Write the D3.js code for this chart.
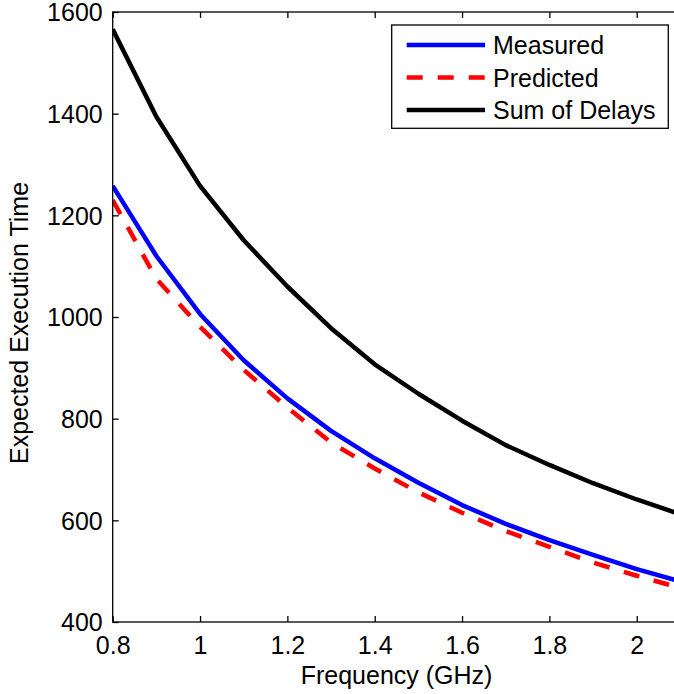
<!DOCTYPE html>
<html>
<head>
<meta charset="utf-8">
<script src="https://cdn.jsdelivr.net/npm/d3@7"></script>
<style>
  html, body { margin: 0; padding: 0; background: #fff; overflow: hidden; }
  svg { display: block; font-family: "Liberation Sans", Arial, Helvetica, sans-serif; }
</style>
</head>
<body>
<script>
// Data
const freq = [0.8, 0.9, 1.0, 1.1, 1.2, 1.3, 1.4, 1.5, 1.6, 1.7, 1.8, 1.9, 2.0, 2.1];
const measured = [1258, 1120, 1006, 915, 840, 776, 722, 674, 630, 593, 561, 532, 504, 480];
const predicted = [1230, 1075, 981, 896, 822, 753, 702, 655, 615, 579, 548, 517, 491, 467];
const sumOfDelays = [1566, 1394, 1258, 1151, 1060, 978, 907, 849, 796, 748, 709, 673, 641, 612];

const xTicks = [0.8, 1.0, 1.2, 1.4, 1.6, 1.8, 2.0];
const xTickLabels = ["0.8", "1", "1.2", "1.4", "1.6", "1.8", "2"];
const yTicks = [400, 600, 800, 1000, 1200, 1400, 1600];

const series = [
  { name: "Measured", values: measured, color: "#0000ff", dash: null },
  { name: "Predicted", values: predicted, color: "#ff0000", dash: "16,15" },
  { name: "Sum of Delays", values: sumOfDelays, color: "#000000", dash: null }
];

const width = 674;
const height = 694;
const fontSize = 25;

const x = d3.scaleLinear().domain([0.8, 2.1]).range([112.7, 680.4]);
const y = d3.scaleLinear().domain([400, 1600]).range([622, 12]);

const svg = d3.select('body')
  .append('svg')
  .attr('width', width)
  .attr('height', height);

// plot lines (clipped to the axes box)
svg.append('clipPath')
  .attr('id', 'plot-clip')
  .append('rect')
  .attr('x', x.range()[0])
  .attr('y', y.range()[1])
  .attr('width', x.range()[1] - x.range()[0])
  .attr('height', y.range()[0] - y.range()[1]);

const line = d3.line()
  .x((d, i) => x(freq[i]))
  .y(d => y(d));

svg.append('g')
  .attr('clip-path', 'url(#plot-clip)')
  .selectAll('path')
  .data(series)
  .join('path')
  .attr('d', d => line(d.values))
  .attr('fill', 'none')
  .attr('stroke', d => d.color)
  .attr('stroke-width', 4.5)
  .attr('stroke-linejoin', 'round')
  .attr('stroke-dasharray', d => d.dash);

// axes box
svg.append('rect')
  .attr('x', x.range()[0])
  .attr('y', y.range()[1])
  .attr('width', x.range()[1] - x.range()[0])
  .attr('height', y.range()[0] - y.range()[1])
  .attr('fill', 'none')
  .attr('stroke', '#000')
  .attr('stroke-width', 1.3);

// bottom axis, ticks pointing in
const xAxis = svg.append('g')
  .attr('transform', `translate(0,${y.range()[0]})`)
  .call(d3.axisBottom(x)
    .tickValues(xTicks)
    .tickFormat((d, i) => xTickLabels[i])
    .tickSize(-6));
xAxis.select('.domain').remove();
xAxis.selectAll('line').attr('stroke', '#000').attr('stroke-width', 1.3);
xAxis.selectAll('text')
  .attr('y', 32)
  .attr('dy', null)
  .attr('fill', '#000')
  .style('font-size', fontSize + 'px')
  .style('font-family', '"Liberation Sans", Arial, sans-serif');

// top axis ticks
const xTop = svg.append('g')
  .attr('transform', `translate(0,${y.range()[1]})`)
  .call(d3.axisTop(x).tickValues(xTicks).tickFormat('').tickSize(-6));
xTop.select('.domain').remove();
xTop.selectAll('line').attr('stroke', '#000').attr('stroke-width', 1.3);

// left axis, ticks pointing in
const yAxis = svg.append('g')
  .attr('transform', `translate(${x.range()[0]},0)`)
  .call(d3.axisLeft(y)
    .tickValues(yTicks)
    .tickFormat(d3.format('d'))
    .tickSize(-6));
yAxis.select('.domain').remove();
yAxis.selectAll('line').attr('stroke', '#000').attr('stroke-width', 1.3);
yAxis.selectAll('text')
  .attr('x', -10)
  .attr('dy', '0.35em')
  .attr('fill', '#000')
  .style('font-size', fontSize + 'px')
  .style('font-family', '"Liberation Sans", Arial, sans-serif');

// axis labels
svg.append('text')
  .attr('x', (x.range()[0] + x.range()[1]) / 2)
  .attr('y', 684)
  .attr('text-anchor', 'middle')
  .style('font-size', fontSize + 'px')
  .text('Frequency (GHz)');

svg.append('text')
  .attr('transform', 'translate(28,323) rotate(-90)')
  .attr('text-anchor', 'middle')
  .style('font-size', fontSize + 'px')
  .text('Expected Execution Time');

// legend
const legend = svg.append('g');
legend.append('rect')
  .attr('x', 391.7)
  .attr('y', 25)
  .attr('width', 276.6)
  .attr('height', 103.3)
  .attr('fill', '#fff')
  .attr('stroke', '#000')
  .attr('stroke-width', 1.3);

const rows = legend.selectAll('g.row')
  .data(series)
  .join('g')
  .attr('class', 'row')
  .attr('transform', (d, i) => `translate(0,${45 + i * 32.5})`);

rows.append('line')
  .attr('x1', 406.7)
  .attr('x2', 485)
  .attr('stroke', d => d.color)
  .attr('stroke-width', 4.5)
  .attr('stroke-dasharray', d => d.dash);

rows.append('text')
  .attr('x', 493)
  .attr('dy', '0.36em')
  .style('font-size', fontSize + 'px')
  .text(d => d.name);
</script>
</body>
</html>
